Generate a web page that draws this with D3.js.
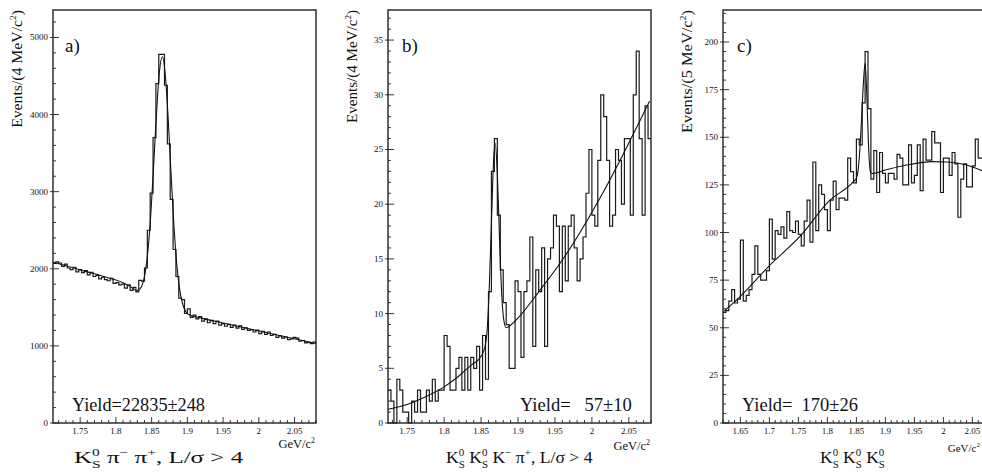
<!DOCTYPE html>
<html>
<head>
<meta charset="utf-8">
<script src="https://cdn.jsdelivr.net/npm/d3@7.9.0/dist/d3.min.js"></script>
<style>
  body { margin: 0; background: #fff; }
  text { font-family: "Liberation Serif", "Times New Roman", serif; fill: #111; }
</style>
</head>
<body>
<svg id="chart" width="982" height="472"></svg>
<script>
// --- data ---
// a) K0s pi- pi+, 4 MeV bins from 1.712 to 2.080
const rangeA = [1.712, 2.080];
const countsA = [2070,2090,2075,2030,2060,2010,1990,2020,1960,1990,
  1950,1975,1920,1955,1900,1915,1870,1890,1860,1845,
  1875,1810,1820,1790,1800,1750,1790,1720,1760,1700,
  1850,1840,2010,2500,2980,3700,4400,4780,4780,4380,
  3620,2900,2250,1900,1620,1600,1420,1480,1370,1400,
  1350,1380,1320,1350,1300,1330,1290,1320,1270,1290,
  1255,1280,1240,1270,1230,1260,1215,1235,1200,1210,
  1180,1205,1160,1190,1150,1180,1135,1150,1110,1130,
  1100,1115,1080,1090,1110,1100,1060,1070,1040,1045,
  1030,1050];
const fitA = [[1.712,2085],[1.73,2040],[1.75,1985],[1.77,1935],[1.79,1880],[1.80,1855],
  [1.81,1820],[1.82,1770],[1.829,1719],[1.833,1733],[1.837,1795],[1.841,1951],[1.845,2250],
  [1.849,2729],[1.853,3367],[1.857,4042],[1.861,4562],[1.865,4750],[1.869,4528],[1.873,3974],
  [1.877,3265],[1.881,2591],[1.885,2078],[1.889,1745],[1.893,1555],[1.897,1459],[1.901,1411],
  [1.92,1360],[1.95,1297],[1.98,1235],[2.01,1174],[2.04,1112],[2.08,1030]];
const yTicksA = [0, 1000, 2000, 3000, 4000, 5000];
const xTicksA = [1.75, 1.8, 1.85, 1.9, 1.95, 2, 2.05];

// b) K0s K0s K- pi+, 4 MeV bins from 1.724 to 2.080
const rangeB = [1.724, 2.080];
const countsB = [3,2,0,4,3,1,1,0,2,1,
  3,1,1,3,2,4,2,3,3,8,
  7,3,3,5,6,3,6,3,6,5,
  7,3,8,4,12,23,26,19,14,11,
  9,5,5,13,12,6,12,13,17,7,
  14,12,16,7,15,16,19,18,12,18,
  13,18,19,16,13,15,17,21,25,19,
  18,24,30,28,24,18,19,25,24,20,
  26,26,19,30,34,26,19,29,26];
const fitB = [[1.724,1.25],[1.75,1.7],[1.775,2.4],[1.8,3.3],[1.82,4.3],[1.835,5.2],[1.85,6.1],
  [1.855,6.9],[1.858,8.3],[1.861,12.2],[1.864,18.3],[1.867,24.1],[1.869,25.6],[1.872,22.8],
  [1.875,16.8],[1.878,11.7],[1.881,9.3],[1.884,8.7],[1.887,8.8],[1.9,9.6],[1.927,11.9],
  [1.963,15.2],[2.017,21.3],[2.078,29.4]];
const yTicksB = [0, 5, 10, 15, 20, 25, 30, 35];
const xTicksB = [1.75, 1.8, 1.85, 1.9, 1.95, 2, 2.05];

// c) K0s K0s K0s, 5 MeV bins from 1.62 to 2.07
const rangeC = [1.62, 2.07];
const countsC = [58,59,64,70,63,65,96,64,67,70,
  78,93,78,75,75,80,107,86,101,99,
  103,97,111,101,100,106,99,93,106,117,
  95,137,101,125,120,112,101,117,127,112,
  118,118,117,139,132,126,149,146,168,195,
  165,128,143,121,142,131,126,131,131,128,
  141,139,125,125,146,126,130,146,122,149,
  138,138,153,147,147,121,139,139,130,142,
  136,108,128,136,124,124,135,149,139,139];
const fitC = [[1.621,58.5],[1.65,66.5],[1.698,82],[1.755,98.7],[1.801,116],[1.845,126.7],
  [1.85,128.5],[1.853,133],[1.856,144],[1.859,160],[1.862,178],[1.865,189],[1.868,172],
  [1.871,145],[1.874,132],[1.877,131],[1.9,132.8],[1.9365,135.4],[1.982,137.2],[2.005,137],
  [2.04,135.4],[2.07,132]];
const yTicksC = [0, 25, 50, 75, 100, 125, 150, 175, 200];
const xTicksC = [1.65, 1.7, 1.75, 1.8, 1.85, 1.9, 1.95, 2, 2.05];

const titleA = [['K'],['0','sup'],['S','sub'],[' π'],['−','sup'],[' π'],['+','sup'],[', L/σ > 4']];
const titleB = [['K'],['0','sup'],['S','sub'],[' K'],['0','sup'],['S','sub'],[' K'],['−','sup'],[' π'],['+','sup'],[', L/σ > 4']];
const titleC = [['K'],['0','sup'],['S','sub'],[' K'],['0','sup'],['S','sub'],[' K'],['0','sup'],['S','sub']];

const svg = d3.select('#chart');
const frameTop = 10, frameBottom = 423;

const panels = [
  { counts: countsA, range: rangeA, fit: fitA, yMax: 5356, yTicks: yTicksA, yMinor: 200, xTicks: xTicksA,
    left: 53, right: 316, binW: 'Events/(4 MeV/c', ylabLen: 118, letter: 'a)', letterX: 65,
    yieldText: 'Yield=22835±248', yieldX: 72, yieldW: 133, title: titleA, titleX: 74, titleW: 170,
    unitX: 315, unitY: 448, unitSize: 12.5 },
  { counts: countsB, range: rangeB, fit: fitB, yMax: 37.75, yTicks: yTicksB, yMinor: 1, xTicks: xTicksB,
    left: 388, right: 651, binW: 'Events/(4 MeV/c', ylabLen: 113, letter: 'b)', letterX: 402,
    yieldText: 'Yield=   57±10', yieldX: 520, yieldW: 112, title: titleB, titleX: 446, titleW: 147,
    unitX: 650, unitY: 450, unitSize: 12.5 },
  { counts: countsC, range: rangeC, fit: fitC, yMax: 216.8, yTicks: yTicksC, yMinor: 5, xTicks: xTicksC,
    left: 723, right: 984, binW: 'Events/(5 MeV/c', ylabLen: 123, letter: 'c)', letterX: 737,
    yieldText: 'Yield=  170±26', yieldX: 742, yieldW: 116, title: titleC, titleX: 820, titleW: 65,
    unitX: 980, unitY: 452, unitSize: 11 }
];

function fitWidth(sel, target) {
  const w = sel.node().getBBox().width;
  if (w > 0) sel.attr('transform', `scale(${target / w},1)`);
}

function rich(g, parts, size) {
  const t = g.append('text').attr('font-size', size).style('white-space', 'pre');
  let shift = 0, prev = null;
  parts.forEach(([s, kind]) => {
    const ts = t.append('tspan').text(s);
    let target = 0;
    if (kind === 'sup') target = -0.42 * size;
    if (kind === 'sub') target = 0.3 * size;
    if (kind) ts.attr('font-size', size * 0.62);
    ts.attr('dy', target - shift);
    if (kind === 'sub' && prev && prev.kind === 'sup') ts.attr('dx', -prev.node.getComputedTextLength());
    shift = target;
    prev = { kind, node: ts.node() };
  });
  return t;
}

panels.forEach(p => {
  const x = d3.scaleLinear().domain(p.range).range([p.left, p.right]);
  const y = d3.scaleLinear().domain([0, p.yMax]).range([frameBottom, frameTop]);
  const g = svg.append('g');

  // histogram outline
  const w = (p.range[1] - p.range[0]) / p.counts.length;
  const pts = p.counts.map((v, i) => [p.range[0] + i * w, v]);
  pts.push([p.range[1], p.counts[p.counts.length - 1]]);
  g.append('path')
    .attr('d', d3.line().x(d => x(d[0])).y(d => y(d[1])).curve(d3.curveStepAfter)(pts))
    .attr('fill', 'none').attr('stroke', '#1a1a1a').attr('stroke-width', 1.2);

  // fit curve
  g.append('path')
    .attr('d', d3.line().x(d => x(d[0])).y(d => y(d[1])).curve(d3.curveMonotoneX)(p.fit))
    .attr('fill', 'none').attr('stroke', '#111').attr('stroke-width', 1.1);

  // frame
  g.append('rect').attr('x', p.left).attr('y', frameTop)
    .attr('width', p.right - p.left).attr('height', frameBottom - frameTop)
    .attr('fill', 'none').attr('stroke', '#222').attr('stroke-width', 1.4);

  // y ticks
  d3.range(0, p.yMax, p.yMinor).forEach(v => {
    const major = p.yTicks.includes(+v.toFixed(6));
    g.append('line').attr('x1', major ? p.left - 3 : p.left).attr('x2', p.left + (major ? 6 : 3))
      .attr('y1', y(v)).attr('y2', y(v)).attr('stroke', '#222').attr('stroke-width', 0.9);
  });
  p.yTicks.forEach(v => {
    g.append('text').attr('x', p.left - 5).attr('y', y(v) + 3).attr('text-anchor', 'end')
      .attr('font-size', 9).text(String(v));
  });

  // x ticks
  const start = Math.ceil(p.range[0] * 100 - 1e-6) / 100;
  d3.range(start, p.range[1] + 1e-9, 0.01).forEach(v => {
    const major = p.xTicks.some(t => Math.abs(t - v) < 1e-6);
    g.append('line').attr('x1', x(v)).attr('x2', x(v))
      .attr('y1', frameBottom).attr('y2', frameBottom - (major ? 6 : 3))
      .attr('stroke', '#222').attr('stroke-width', 0.9);
  });
  p.xTicks.forEach(v => {
    g.append('text').attr('x', x(v)).attr('y', frameBottom + 11).attr('text-anchor', 'middle')
      .attr('font-size', 9).text(String(+v.toFixed(2)));
  });

  // y axis title
  const yl = g.append('g').attr('transform', `translate(${p.left - 31},${frameTop}) rotate(-90)`);
  const ylt = yl.append('text').attr('text-anchor', 'end').attr('font-size', 15);
  ylt.append('tspan').text(p.binW);
  ylt.append('tspan').text('2').attr('font-size', 9).attr('dy', -6);
  ylt.append('tspan').text(')').attr('dy', 6);
  fitWidth(ylt, p.ylabLen);

  // unit label
  const ut = g.append('text').attr('x', p.unitX).attr('y', p.unitY)
    .attr('text-anchor', 'end').attr('font-size', p.unitSize);
  ut.append('tspan').text('GeV/c');
  ut.append('tspan').text('2').attr('font-size', p.unitSize * 0.64).attr('dy', -5);

  // panel letter
  g.append('text').attr('x', p.letterX).attr('y', 52).attr('font-size', 19).text(p.letter);

  // yield
  const yg = g.append('g').attr('transform', `translate(${p.yieldX},411)`);
  const yt = yg.append('text').attr('font-size', 18).style('white-space', 'pre').text(p.yieldText);
  fitWidth(yt, p.yieldW);

  // channel title
  const tg = g.append('g').attr('transform', `translate(${p.titleX},463)`);
  const tt = rich(tg, p.title, 17);
  fitWidth(tt, p.titleW);
});
</script>
</body>
</html>
